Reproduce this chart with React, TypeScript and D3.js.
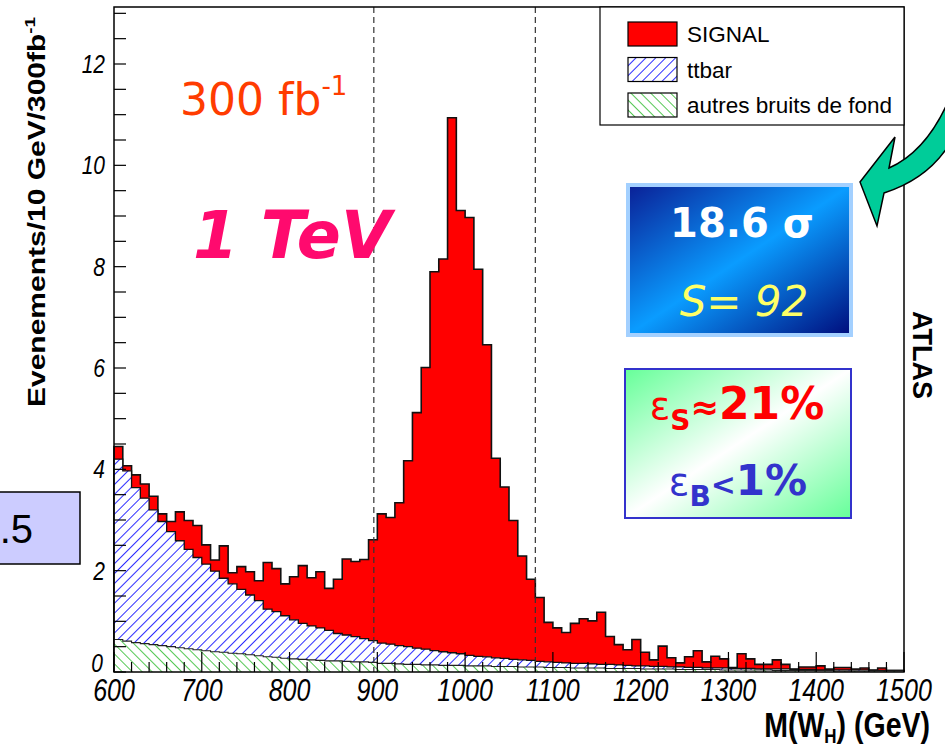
import React from 'react';
import * as d3 from 'd3';

// 10 GeV bins from 600 to 1500 GeV
const binLow = d3.range(600, 1500, 10);
const binWidth = 10;

// top of the full stack (SIGNAL + ttbar + autres), events / 10 GeV
const stackAll = [
  4.45, 4.07, 3.89, 3.71, 3.47, 3.12, 2.97, 3.16, 2.99, 2.89,
  2.51, 2.21, 2.49, 1.96, 2.08, 1.98, 1.80, 2.16, 2.04, 1.74,
  1.88, 2.10, 1.86, 1.98, 1.65, 1.83, 2.23, 2.18, 2.22, 2.61,
  3.12, 3.05, 3.34, 4.17, 5.12, 6.01, 7.90, 8.15, 10.94, 9.11,
  8.97, 7.95, 6.46, 4.22, 3.65, 2.99, 2.29, 1.83, 1.47, 0.98,
  0.87, 0.78, 0.96, 1.05, 1.01, 1.18, 0.70, 0.54, 0.44, 0.64,
  0.39, 0.24, 0.51, 0.28, 0.18, 0.30, 0.42, 0.20, 0.31, 0.26,
  0.09, 0.36, 0.26, 0.15, 0.15, 0.24, 0.15, 0.06, 0.10, 0.10,
  0.12, 0.06, 0.09, 0.09, 0.06, 0.08, 0.04, 0.08, 0.03, 0.03,
];

// top of ttbar stacked on autres
const stackTtbar = [
  4.20, 3.97, 3.64, 3.43, 3.20, 2.97, 2.77, 2.59, 2.42, 2.26,
  2.13, 1.99, 1.85, 1.74, 1.63, 1.52, 1.41, 1.24, 1.19, 1.11,
  1.03, 0.96, 0.91, 0.87, 0.82, 0.76, 0.73, 0.70, 0.66, 0.62,
  0.57, 0.55, 0.52, 0.50, 0.47, 0.45, 0.42, 0.40, 0.38, 0.36,
  0.33, 0.31, 0.30, 0.28, 0.27, 0.25, 0.24, 0.23, 0.21, 0.20,
  0.19, 0.18, 0.17, 0.17, 0.16, 0.15, 0.15, 0.14, 0.13, 0.12,
  0.12, 0.11, 0.11, 0.10, 0.10, 0.09, 0.09, 0.08, 0.08, 0.08,
  0.07, 0.07, 0.07, 0.06, 0.06, 0.06, 0.06, 0.05, 0.05, 0.05,
  0.04, 0.04, 0.04, 0.04, 0.04, 0.04, 0.03, 0.03, 0.03, 0.03,
];

// autres bruits de fond
const autres = [
  0.64, 0.61, 0.58, 0.56, 0.54, 0.52, 0.50, 0.48, 0.46, 0.44,
  0.42, 0.40, 0.39, 0.37, 0.36, 0.34, 0.32, 0.30, 0.29, 0.27,
  0.26, 0.25, 0.24, 0.23, 0.22, 0.22, 0.21, 0.20, 0.20, 0.19,
  0.17, 0.17, 0.16, 0.15, 0.15, 0.14, 0.14, 0.13, 0.13, 0.13,
  0.12, 0.12, 0.12, 0.11, 0.11, 0.11, 0.10, 0.10, 0.10, 0.09,
  0.09, 0.09, 0.08, 0.08, 0.08, 0.08, 0.07, 0.07, 0.07, 0.07,
  0.06, 0.06, 0.06, 0.06, 0.05, 0.05, 0.05, 0.05, 0.05, 0.04,
  0.04, 0.04, 0.04, 0.04, 0.04, 0.03, 0.03, 0.03, 0.03, 0.03,
  0.03, 0.03, 0.02, 0.02, 0.02, 0.02, 0.02, 0.02, 0.02, 0.02,
];

const xLabels = [600, 700, 800, 900, 1000, 1100, 1200, 1300, 1400, 1500];
const yLabels = [0, 2, 4, 6, 8, 10, 12];
const massWindow = [896, 1080];

const legendItems = [
  { label: 'SIGNAL', fill: '#ff0000' },
  { label: 'ttbar', fill: 'url(#hatchBlue)' },
  { label: 'autres bruits de fond', fill: 'url(#hatchGreen)' },
];

const rootFont = '"Liberation Sans", Arial, sans-serif';
const slideFont = '"DejaVu Sans", Verdana, sans-serif';

const x = d3.scaleLinear().domain([600, 1500]).range([114, 904]);
const y = d3.scaleLinear().domain([0, 13.125]).range([672, 7]);

function stairs(vals) {
  return vals.flatMap((v, i) => [[binLow[i], v], [binLow[i] + binWidth, v]]);
}

const area = d3.area().x(d => x(d[0])).y0(y(0)).y1(d => y(d[1]));
const line = d3.line().x(d => x(d[0])).y(d => y(d[1]));

function Hist({ vals, fill, stroke, width }) {
  const pts = stairs(vals);
  return (
    <g>
      <path d={area(pts)} fill={fill} />
      <path d={line([[600, 0], ...pts, [1500, 0]])} fill="none" stroke={stroke} strokeWidth={width} />
    </g>
  );
}

export default function App() {
  const xMinor = d3.range(600, 1501, 20);
  const yMinor = d3.range(0, 13.01, 0.5);

  return (
    <div style={{ position: 'absolute', left: 0, top: 0 }}>
      <svg width={945} height={753} style={{ display: 'block', background: '#fff' }}>
        <defs>
          <pattern id="hatchBlue" patternUnits="userSpaceOnUse" width="7" height="7" patternTransform="rotate(-45)">
            <rect width="7" height="7" fill="#fff" />
            <line x1="0" y1="3.5" x2="7" y2="3.5" stroke="#2d2dff" strokeWidth="1" />
          </pattern>
          <pattern id="hatchGreen" patternUnits="userSpaceOnUse" width="7" height="7" patternTransform="rotate(45)">
            <rect width="7" height="7" fill="#fff" />
            <line x1="0" y1="3.5" x2="7" y2="3.5" stroke="#55c855" strokeWidth="1" />
          </pattern>
          <linearGradient id="blueBox" x1="0" y1="0" x2="1" y2="1">
            <stop offset="0" stopColor="#0a1f96" />
            <stop offset="0.5" stopColor="#0a9cff" />
            <stop offset="1" stopColor="#000c7c" />
          </linearGradient>
          <linearGradient id="greenBox" x1="0" y1="0" x2="1" y2="1">
            <stop offset="0" stopColor="#66ff99" />
            <stop offset="0.5" stopColor="#ffffff" />
            <stop offset="1" stopColor="#66ff99" />
          </linearGradient>
        </defs>

        {/* histogram stack */}
        <Hist vals={stackAll} fill="#ff0000" stroke="#111" width={1.6} />
        <Hist vals={stackTtbar} fill="url(#hatchBlue)" stroke="#111" width={1.3} />
        <Hist vals={autres} fill="url(#hatchGreen)" stroke="#222" width={1.1} />

        {/* mass window */}
        {massWindow.map(m => (
          <line key={m} x1={x(m)} x2={x(m)} y1={7} y2={672} stroke="#333" strokeWidth={1.2} strokeDasharray="6,4" />
        ))}

        {/* ticks */}
        {xMinor.map(v => (
          <line key={'xt' + v} x1={x(v)} x2={x(v)} y1={672} y2={672 - (v % 100 === 0 ? 20 : 10)} stroke="#000" strokeWidth={1.2} />
        ))}
        {yMinor.map(v => (
          <line key={'yt' + v} x1={114} x2={126} y1={y(v)} y2={y(v)} stroke="#000" strokeWidth={1.2} />
        ))}

        {/* frame */}
        <rect x={114} y={7} width={790} height={665} fill="none" stroke="#000" strokeWidth={1.5} />

        {/* tick labels */}
        {xLabels.map(v => (
          <text key={'xl' + v} transform={`translate(${x(v)},701) scale(1,1.25)`} textAnchor="middle"
            fontFamily={rootFont} fontStyle="italic" fontSize={25}>{v}</text>
        ))}
        {yLabels.map(v => (
          <text key={'yl' + v} transform={`translate(${v === 0 ? 103 : 105},${y(v) + (v === 0 ? 0 : 9)}) scale(1,1.2)`} textAnchor="end"
            fontFamily={rootFont} fontStyle="italic" fontSize={21}>{v}</text>
        ))}

        {/* axis titles */}
        <text transform="translate(45,212) scale(1,1.25) rotate(-90)" textAnchor="middle"
          fontFamily={rootFont} fontWeight="bold" fontSize={24}>
          Evenements/10 GeV/300fb<tspan dy={-10} fontSize={15}>-1</tspan>
        </text>
        <text transform="translate(930,737) scale(1,1.2)" textAnchor="end"
          fontFamily={rootFont} fontWeight="bold" fontSize={28.5}>
          M(W<tspan dy={5} fontSize={17}>H</tspan><tspan dy={-5}>) (GeV)</tspan>
        </text>

        {/* legend */}
        <rect x={600} y={7} width={304} height={118} fill="#fff" stroke="#000" strokeWidth={1.2} />
        {legendItems.map((d, i) => (
          <g key={d.label} transform={`translate(0,${i * 35.5})`}>
            <rect x={628} y={22} width={49} height={24} fill={d.fill} stroke="#000" strokeWidth={1.2} />
            <text x={687} y={42} fontFamily={rootFont} fontSize={22.5}>{d.label}</text>
          </g>
        ))}

        {/* ATLAS */}
        <text transform="translate(913,355) rotate(90)" textAnchor="middle"
          fontFamily={rootFont} fontWeight="bold" fontSize={27}>ATLAS</text>

        {/* slide annotations */}
        <text x={180} y={115} fill="#ff3c00" fontFamily={slideFont} fontSize={44}>
          300 fb<tspan dy={-20} fontSize={26}>-1</tspan>
        </text>
        <text x={193} y={258} fill="#ff0a6e" fontFamily={slideFont} fontWeight="bold" fontStyle="italic" fontSize={65}>1 TeV</text>

        <rect x={628} y={185} width={223} height={150} fill="url(#blueBox)" stroke="#a3d0ff" strokeWidth={4} />
        <text x={742} y={237} textAnchor="middle" fill="#fff" fontFamily={slideFont} fontWeight="bold" fontSize={40}>18.6 σ</text>
        <text x={744} y={316} textAnchor="middle" fill="#ffff66" fontFamily={slideFont} fontStyle="italic" fontSize={42}>S= 92</text>

        <rect x={625} y={369} width={226} height={149} fill="url(#greenBox)" stroke="#3333cc" strokeWidth={2} />
        <text x={737} y={419} textAnchor="middle" fill="#ff0000" fontFamily={slideFont} fontWeight="bold" fontSize={44}>
          <tspan fontSize={38} fontWeight="normal">ε</tspan><tspan dy={11} fontSize={28}>S</tspan><tspan dy={-11} fontSize={34}>≈</tspan>21%
        </text>
        <text x={738} y={495} textAnchor="middle" fill="#3333cc" fontFamily={slideFont} fontWeight="bold" fontSize={42}>
          <tspan fontSize={38} fontWeight="normal">ε</tspan><tspan dy={11} fontSize={28}>B</tspan><tspan dy={-11} fontSize={30}>{'<'}</tspan>1%
        </text>

        {/* arrow */}
        <path d="M 860 182 L 895 137 L 889 168 Q 925 152 947 104 L 947 148 Q 925 180 884 193 L 877 226 Z"
          fill="#00cc99" stroke="#000" strokeWidth={1.5} strokeLinejoin="miter" />

        {/* clipped box at the left edge */}
        <rect x={-2} y={492} width={82} height={72} fill="#ccccff" stroke="#000" strokeWidth={1.5} />
        <text x={33} y={543} textAnchor="end" fontFamily={rootFont} fontSize={40}>.5</text>
      </svg>
    </div>
  );
}
